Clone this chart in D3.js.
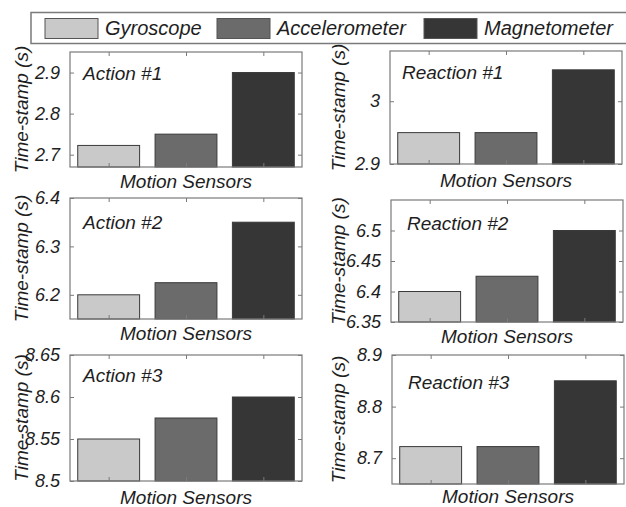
<!DOCTYPE html>
<html>
<head>
<meta charset="utf-8">
<script src="https://cdn.jsdelivr.net/npm/d3@7"></script>
<style>
  html, body { margin: 0; padding: 0; background: #fff; }
  svg { display: block; }
  text { font-family: "Liberation Sans", Arial, sans-serif; font-style: italic; fill: #1e1e1e; }
</style>
</head>
<body>
<svg id="chart" width="626" height="507"></svg>
<script>
// Sensor series and per-panel values (seconds)
const sensors = ["Gyroscope", "Accelerometer", "Magnetometer"];
const panelTitles = ["Action #1", "Reaction #1", "Action #2", "Reaction #2", "Action #3", "Reaction #3"];
const gyroscope     = [2.7225, 2.95, 6.2,   6.4,   8.55,  8.7225];
const accelerometer = [2.75,   2.95, 6.225, 6.425, 8.575, 8.7225];
const magnetometer  = [2.9,    3.05, 6.35,  6.5,   8.6,   8.85];
const yDomains = [[2.67, 2.95], [2.9, 3.08], [6.15, 6.4], [6.35, 6.55], [8.5, 8.65], [8.65, 8.9]];
const yTicks = [
  [2.7, 2.8, 2.9],
  [2.9, 3],
  [6.2, 6.3, 6.4],
  [6.35, 6.4, 6.45, 6.5],
  [8.5, 8.55, 8.6, 8.65],
  [8.7, 8.8, 8.9]
];
const xLabel = "Motion Sensors";
const yLabel = "Time-stamp (s)";

// Layout of the six axes boxes
const frames = [
  { x: 70,  y: 52,  w: 232, h: 115, tx: 13, ty: 28, lb: 21 },
  { x: 390, y: 51,  w: 232, h: 113, tx: 12, ty: 28, lb: 23 },
  { x: 70,  y: 198, w: 232, h: 121, tx: 13, ty: 31, lb: 21 },
  { x: 391, y: 200, w: 232, h: 122, tx: 16, ty: 30, lb: 21 },
  { x: 70,  y: 355, w: 232, h: 126, tx: 13, ty: 27, lb: 23 },
  { x: 392, y: 355, w: 232, h: 129, tx: 16, ty: 34, lb: 19 }
];
const colors = d3.scaleOrdinal().domain(sensors).range(["#c9c9c9", "#6b6b6b", "#363636"]);
const boxColor = "#7a7a7a";

const svg = d3.select("#chart");

frames.forEach((f, i) => {
  const values = [gyroscope[i], accelerometer[i], magnetometer[i]];
  const data = sensors.map((s, k) => ({ sensor: s, value: values[k] }));

  const x = d3.scaleBand().domain(sensors).range([f.x, f.x + f.w]).paddingInner(0.2).paddingOuter(0.1);
  const y = d3.scaleLinear().domain(yDomains[i]).range([f.y + f.h, f.y]);

  const g = svg.append("g");

  // bars
  g.selectAll("rect.bar").data(data).join("rect")
    .attr("class", "bar")
    .attr("x", d => x(d.sensor))
    .attr("width", x.bandwidth())
    .attr("y", d => y(d.value))
    .attr("height", d => y(yDomains[i][0]) - y(d.value))
    .attr("fill", d => colors(d.sensor))
    .attr("stroke", "#3a3a3a")
    .attr("stroke-width", 1);

  // axes box
  g.append("rect")
    .attr("x", f.x).attr("y", f.y).attr("width", f.w).attr("height", f.h)
    .attr("fill", "none").attr("stroke", boxColor).attr("stroke-width", 1.2);

  // y axis with inward ticks on both sides
  const yAxisL = d3.axisLeft(y).tickValues(yTicks[i]).tickSize(-4).tickPadding(10).tickFormat(d => String(d));
  const ay = g.append("g").attr("transform", `translate(${f.x},0)`).call(yAxisL);
  ay.select(".domain").remove();
  ay.selectAll("line").attr("stroke", boxColor);
  ay.selectAll("text").attr("font-size", 18).attr("fill", "#1e1e1e")
    .style("font-family", "'Liberation Sans', Arial, sans-serif").style("font-style", "italic");

  const yAxisR = d3.axisRight(y).tickValues(yTicks[i]).tickSize(-4).tickFormat("");
  const ayr = g.append("g").attr("transform", `translate(${f.x + f.w},0)`).call(yAxisR);
  ayr.select(".domain").remove();
  ayr.selectAll("line").attr("stroke", boxColor);

  // x ticks at bar centres, top and bottom, no labels
  const xc = d3.scalePoint().domain(sensors).range([x(sensors[0]) + x.bandwidth() / 2, x(sensors[2]) + x.bandwidth() / 2]);
  const axB = g.append("g").attr("transform", `translate(0,${f.y + f.h})`)
    .call(d3.axisBottom(xc).tickSize(-4).tickFormat(""));
  axB.select(".domain").remove();
  axB.selectAll("line").attr("stroke", boxColor);
  const axT = g.append("g").attr("transform", `translate(0,${f.y})`)
    .call(d3.axisTop(xc).tickSize(-4).tickFormat(""));
  axT.select(".domain").remove();
  axT.selectAll("line").attr("stroke", boxColor);

  // panel title
  g.append("text")
    .attr("x", f.x + f.tx).attr("y", f.y + f.ty)
    .attr("font-size", 19)
    .text(panelTitles[i]);

  // x label
  g.append("text")
    .attr("x", f.x + f.w / 2).attr("y", f.y + f.h + f.lb)
    .attr("text-anchor", "middle")
    .attr("font-size", 19)
    .text(xLabel);

  // y label
  const lx = i % 2 === 0 ? 28 : 345;
  g.append("text")
    .attr("transform", `translate(${lx},${f.y + f.h / 2}) rotate(-90)`)
    .attr("text-anchor", "middle")
    .attr("font-size", 19)
    .text(yLabel);
});

// legend
const legend = svg.append("g");
legend.append("rect")
  .attr("x", 31).attr("y", 12.5).attr("width", 620).attr("height", 31)
  .attr("fill", "#fff").attr("stroke", "#7a7a7a").attr("stroke-width", 1.5);
const legendX = [45, 217, 424];
sensors.forEach((s, k) => {
  legend.append("rect")
    .attr("x", legendX[k]).attr("y", 18.5).attr("width", 53).attr("height", 20)
    .attr("fill", colors(s)).attr("stroke", "#555").attr("stroke-width", 1);
  legend.append("text")
    .attr("x", legendX[k] + 60).attr("y", 35)
    .attr("font-size", 20)
    .text(s);
});
</script>
</body>
</html>
